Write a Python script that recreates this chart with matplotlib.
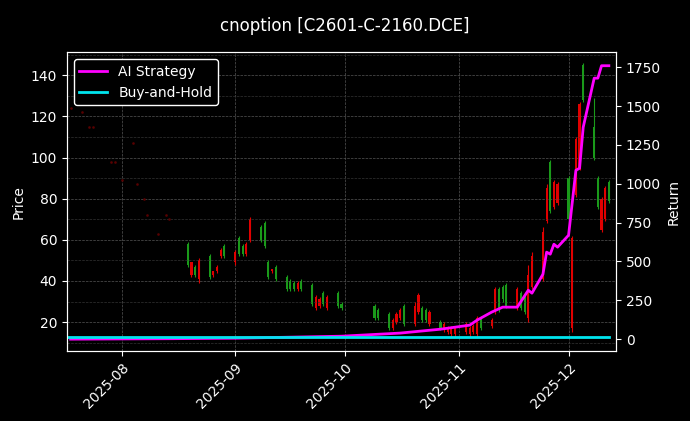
import matplotlib
matplotlib.use("Agg")
import matplotlib.pyplot as plt
import matplotlib.dates as mdates
import pandas as pd
import numpy as np

title = "cnoption [C2601-C-2160.DCE]"

# early illiquid days (close only)
early_dates = ["2025-07-18","2025-07-21","2025-07-23","2025-07-24","2025-07-29","2025-07-30",
               "2025-08-01","2025-08-04","2025-08-05","2025-08-07","2025-08-08","2025-08-11",
               "2025-08-13","2025-08-14"]
early_close = [124,122,115,115,98,98,89,107,87,80,72,63,72,70]

candle_dates = ["2025-08-19","2025-08-20","2025-08-21","2025-08-22","2025-08-25","2025-08-26","2025-08-27",
 "2025-08-28","2025-08-29","2025-09-01","2025-09-02","2025-09-03","2025-09-04","2025-09-05","2025-09-08",
 "2025-09-09","2025-09-10","2025-09-11","2025-09-12","2025-09-15","2025-09-16","2025-09-17","2025-09-18",
 "2025-09-19","2025-09-22","2025-09-23","2025-09-24","2025-09-25","2025-09-26","2025-09-29","2025-09-30",
 "2025-10-09","2025-10-10","2025-10-13","2025-10-14","2025-10-15","2025-10-16","2025-10-17","2025-10-20",
 "2025-10-21","2025-10-22","2025-10-23","2025-10-24","2025-10-27","2025-10-28","2025-10-29","2025-10-30",
 "2025-10-31","2025-11-03","2025-11-04","2025-11-05","2025-11-06","2025-11-07","2025-11-10","2025-11-11",
 "2025-11-12","2025-11-13","2025-11-14","2025-11-17","2025-11-18","2025-11-19","2025-11-20","2025-11-21",
 "2025-11-24","2025-11-25","2025-11-26","2025-11-27","2025-11-28","2025-12-01","2025-12-02","2025-12-03",
 "2025-12-04","2025-12-05","2025-12-08","2025-12-09","2025-12-10","2025-12-11","2025-12-12"]
opens  = [58,43,47,41,52,43,45,52,57,49,61,57,53,60,66,68,49,45,47,42,40,39,36,40,38,27,28,34,27,34,29,
          28,26,24,17,20,22,28,19,25,27,26,19,20,16,15,14,14,15,14,15,14,22,18,25,36,37,38,27,34,33,22,37,
          41,69,98,76,78,90,17,82,95,145,115,90,65,70,88]
closes = [48,49,43,50,42,45,47,55,52,54,53,53,58,70,60,57,42,46,41,36,36,36,39,36,29,32,31,29,32,28,27,
          22,22,17,21,24,26,19,28,33,21,21,25,17,19,17,17,17,19,17,18,22,17,21,36,26,31,28,36,27,25,43,52,
          64,85,74,88,87,70,61,109,126,128,100,76,80,85,79]
highs  = [59,49,48,51,53,45,48,56,58,55,62,58,59,71,67,69,50,46,48,43,41,40,40,41,39,33,32,35,33,35,30,
          29,27,25,22,25,27,29,30,34,28,27,26,21,20,18,18,18,20,18,19,23,23,22,37,37,38,39,37,35,34,48,54,
          66,87,99,89,88,91,62,110,127,146,129,91,81,86,89]
lows   = [47,42,42,39,41,42,44,51,51,48,52,52,52,59,59,56,41,44,40,35,35,35,35,35,28,26,27,28,26,27,26,
          21,21,16,16,19,21,18,18,24,20,20,18,16,15,14,13,13,14,13,14,13,16,17,24,25,30,27,26,26,24,20,36,
          40,68,73,75,77,68,15,81,94,127,99,75,64,69,78]

strat_dates = ["2025-07-18","2025-08-15","2025-09-01","2025-09-30","2025-10-16","2025-10-27","2025-11-04",
 "2025-11-06","2025-11-10","2025-11-13","2025-11-17","2025-11-20","2025-11-21","2025-11-24","2025-11-25",
 "2025-11-26","2025-11-27","2025-11-28","2025-12-01","2025-12-03","2025-12-04","2025-12-05","2025-12-08",
 "2025-12-09","2025-12-10","2025-12-11","2025-12-12"]
strat_ret = [0,3,6,19,39,64,90,122,174,206,206,315,296,418,560,547,611,592,669,1087,1100,1364,1680,1680,1760,1760,1760]
bh_dates = ["2025-07-17","2025-12-12"]
bh_ret = [12,12]

plt.rcParams['font.family'] = ['DejaVu Sans']
fig = plt.figure(figsize=(6.9,4.21), dpi=100, facecolor='black')
ax = fig.add_axes([0.097,0.166,0.796,0.710], facecolor='black')
ax2 = ax.twinx()

ed = pd.to_datetime(early_dates)
ax.plot(ed, early_close, ls='none', marker='s', ms=0.8, color='#5a0000')

cd = pd.to_datetime(candle_dates)
for d,o,c,h,l in zip(cd,opens,closes,highs,lows):
    col = '#e00000' if c >= o else '#1a9a1a'
    ax.vlines(d, l, h, color=col, lw=0.8)
    ax.bar(d, abs(c-o) if abs(c-o)>0 else 0.3, bottom=min(o,c), width=0.6, color=col)

ax2.plot(pd.to_datetime(strat_dates), strat_ret, color='#ff00ff', lw=2, label='AI Strategy')
ax2.plot(pd.to_datetime(bh_dates), bh_ret, color='#00e5ee', lw=2, label='Buy-and-Hold')

ax.set_ylim(5.9, 151.2)
ax.set_yticks([20,40,60,80,100,120,140])
ax2.set_ylim(-77, 1847)
ax2.set_yticks([0,250,500,750,1000,1250,1500,1750])
ax.set_xlim(pd.Timestamp("2025-07-17"), pd.Timestamp("2025-12-14"))
ax.xaxis.set_major_locator(mdates.MonthLocator())
ax.xaxis.set_major_formatter(mdates.DateFormatter('%Y-%m'))
for lab in ax.get_xticklabels():
    lab.set_rotation(45); lab.set_ha('right'); lab.set_rotation_mode('anchor')
ax.grid(True, color='#555555', ls='--', lw=0.5)
ax.yaxis.set_minor_locator(matplotlib.ticker.MultipleLocator(10))
ax.grid(True, which='minor', axis='y', color='#333333', ls='--', lw=0.5)

for a in (ax, ax2):
    a.tick_params(colors='white')
    for s in a.spines.values():
        s.set_color('white')
ax.tick_params(which='minor', left=False)
ax.set_ylabel('Price', color='white')
ax2.set_ylabel('Return', color='white')
fig.suptitle(title, color='white', fontsize=12, y=0.96)

leg = ax2.legend(loc='upper left', facecolor='black', edgecolor='white', labelcolor='white', framealpha=1)
fig.savefig('out.png', dpi=100, facecolor='black')
